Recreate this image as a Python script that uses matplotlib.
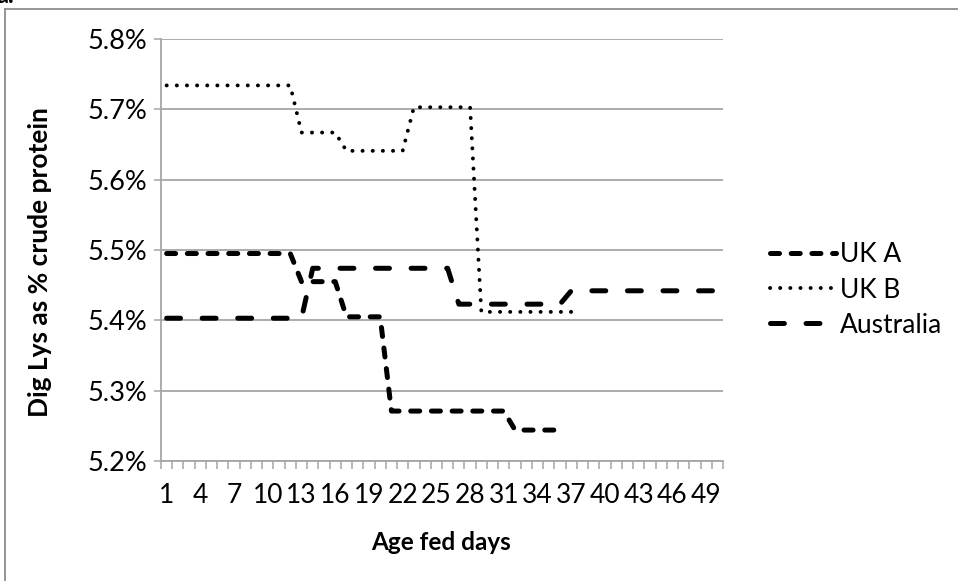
import numpy as np
import matplotlib.pyplot as plt
from matplotlib.ticker import FuncFormatter, FixedLocator

plt.rcParams['font.family'] = ['Lato', 'DejaVu Sans']
plt.rcParams['lines.scale_dashes'] = False

# category axis: feeding day 1..50
days = list(range(1, 51))
tick_days = days[::3]

# Dig Lys as % of crude protein
uk_a = [5.495, 5.495, 5.495, 5.495, 5.495, 5.495, 5.495, 5.495, 5.495, 5.495,
        5.495, 5.495, 5.455, 5.455, 5.455, 5.455, 5.405, 5.405, 5.405, 5.405,
        5.271, 5.271, 5.271, 5.271, 5.271, 5.271, 5.271, 5.271, 5.271, 5.271,
        5.271, 5.244, 5.244, 5.244, 5.244, 5.244]
uk_b = [5.734, 5.734, 5.734, 5.734, 5.734, 5.734, 5.734, 5.734, 5.734, 5.734,
        5.734, 5.734, 5.667, 5.667, 5.667, 5.667, 5.641, 5.641, 5.641, 5.641,
        5.641, 5.641, 5.703, 5.703, 5.703, 5.703, 5.703, 5.703, 5.412, 5.412,
        5.412, 5.412, 5.412, 5.412, 5.412, 5.412, 5.412]
australia = [5.403, 5.403, 5.403, 5.403, 5.403, 5.403, 5.403, 5.403, 5.403, 5.403,
             5.403, 5.403, 5.403, 5.474, 5.474, 5.474, 5.474, 5.474, 5.474, 5.474,
             5.474, 5.474, 5.474, 5.474, 5.474, 5.474, 5.423, 5.423, 5.423, 5.423,
             5.423, 5.423, 5.423, 5.423, 5.423, 5.423, 5.442, 5.442, 5.442, 5.442,
             5.442, 5.442, 5.442, 5.442, 5.442, 5.442, 5.442, 5.442, 5.442, 5.442]

fig = plt.figure(figsize=(9.58, 5.81), dpi=100)
ax = fig.add_axes([161 / 958, 1 - 461 / 581, 562 / 958, 422 / 581])

grid_col = '#a6a6a6'
lw = 3.6
ax.plot(days[:len(uk_a)], uk_a, color='black', lw=lw, dashes=(6.5, 8.4),
        dash_capstyle='round', solid_joinstyle='round', label='UK A', zorder=3)
ax.plot(days[:len(uk_b)], uk_b, color='black', lw=2.8, dashes=(0.1, 7.2),
        dash_capstyle='round', label='UK B', zorder=3)
ax.plot(days[:len(australia)], australia, color='black', lw=lw, dashes=(10, 15.6),
        dash_capstyle='round', label='Australia', zorder=3)

ax.set_xlim(0.5, len(days) + 0.5)
ax.set_ylim(5.2, 5.8)
ax.set_yticks(np.arange(5.2, 5.81, 0.1))
ax.yaxis.set_major_formatter(FuncFormatter(lambda v, p: f'{v:.1f}%'))
ax.grid(axis='y', color=grid_col, lw=1.3, zorder=1)
ax.set_axisbelow(True)

ax.xaxis.set_major_locator(FixedLocator(tick_days))
ax.set_xticklabels([str(d) for d in tick_days])
ax.xaxis.set_minor_locator(FixedLocator(np.arange(0.5, len(days) + 1, 1)))
ax.tick_params(axis='x', which='major', length=0, pad=16, labelsize=19)
ax.tick_params(axis='x', which='minor', length=5.5, width=1.1, color=grid_col)
ax.tick_params(axis='y', length=5, width=1.1, color=grid_col, pad=5, labelsize=19.5)

for s in ['top', 'right']:
    ax.spines[s].set_visible(False)
for s in ['left', 'bottom']:
    ax.spines[s].set_color(grid_col)
    ax.spines[s].set_linewidth(1.3)

fig.text(441 / 958, 1 - 542 / 581, 'Age fed days', ha='center', va='center',
         fontsize=17.5, fontweight='bold')
fig.text(40 / 958, 1 - 262 / 581, 'Dig Lys as % crude protein', ha='center',
         va='center', rotation=90, fontsize=19, fontweight='bold')

fig.legend(loc='center left', bbox_to_anchor=(746 / 958, 1 - 290 / 581),
           frameon=False, fontsize=19, handlelength=2.5, handletextpad=0.15,
           labelspacing=0.38)

# outer chart border and clipped caption from the page
fig.add_artist(plt.Line2D([5 / 958, 1], [1 - 9 / 581, 1 - 9 / 581],
                          color='#8c8c8c', lw=1.3))
fig.add_artist(plt.Line2D([5 / 958, 5 / 958], [0, 1 - 9 / 581],
                          color='#8c8c8c', lw=1.3))
fig.text(-0.004, 1 - 3 / 581, 'a.', fontsize=17, fontweight='bold', va='baseline')

fig.savefig('out.png', dpi=100)
